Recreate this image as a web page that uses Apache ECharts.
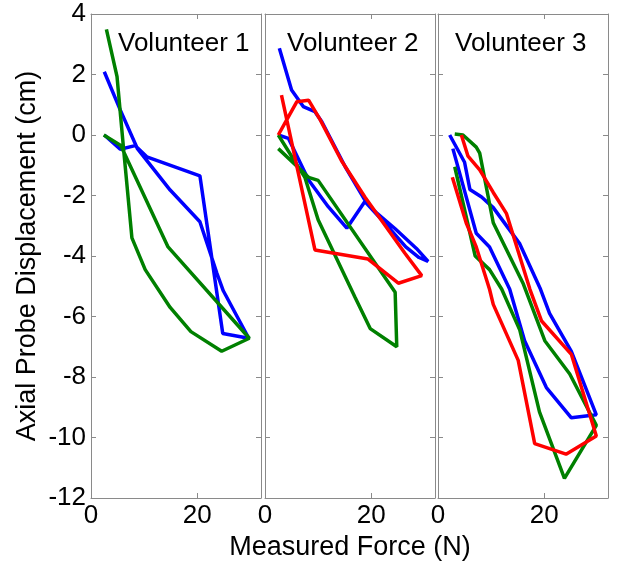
<!DOCTYPE html>
<html>
<head>
<meta charset="utf-8">
<script src="https://cdn.jsdelivr.net/npm/echarts@6/dist/echarts.min.js"></script>
<style>
  html, body { margin: 0; padding: 0; background: #fff; }
  #chart-container { width: 627px; height: 567px; }
</style>
</head>
<body>
<div id="chart-container"></div>
<script>
var dom = document.getElementById("chart-container");
var myChart = echarts.init(dom, null, { renderer: "canvas" });

// [force (N), displacement (cm)]
const v1Blue = [[2.5, 0], [5.5, -0.47], [8.3, -0.35], [10.5, -0.72], [20.5, -1.35], [24.8, -6.56], [29.7, -6.72], [24.9, -5.15], [23.7, -4.57], [20.5, -2.87], [14.9, -1.82], [8.7, -0.44], [5.5, 0.83], [2.5, 2.09]];
const v1Green = [[2.4, 0], [5.6, -0.35], [14.5, -3.7], [29.8, -6.72], [24.6, -7.15], [18.8, -6.5], [14.9, -5.7], [10.2, -4.45], [7.7, -3.4], [6.1, -0.4], [4.9, 1.93], [2.9, 3.49]];

const v2Blue = [[2.5, 0], [4.4, -0.11], [8.2, -1.49], [11.9, -2.37], [15.4, -3.08], [18.8, -2.2], [22.5, -2.9], [26.5, -3.7], [29, -4.05], [30.7, -4.18], [28.5, -3.75], [24.5, -3.1], [20.5, -2.5], [18.8, -2.15], [15.1, -1.05], [10.7, 0.44], [9.4, 0.77], [7.2, 0.94], [5, 1.49], [2.7, 2.87]];
const v2Green = [[2.5, 0], [7.5, -1.4], [10, -2.8], [16.9, -5.35], [19.8, -6.4], [24.8, -7.0], [24.5, -5.2], [10, -1.5], [8.2, -1.4], [2.5, -0.45]];
const v2Red = [[2.5, 0], [4.4, 0.6], [6, 1.1], [8.2, 1.15], [10.4, 0.5], [14.4, -0.85], [18.8, -2.05], [26.3, -3.9], [29.5, -4.65], [25.1, -4.9], [19.4, -4.1], [9.4, -3.8], [3.1, 1.32]];

const v3Blue = [[2.2, 0], [5, -0.9], [6, -1.8], [8.2, -2.05], [10.4, -2.4], [15.4, -3.6], [19.3, -5.1], [21, -5.9], [25.1, -7.15], [29.8, -9.25], [25.1, -9.35], [20.4, -8.35], [16.3, -6.8], [13.5, -5.1], [9.7, -3.7], [7.2, -3.25], [2.8, -0.45]];
const v3Green = [[3.15, 0.03], [4.7, 0], [7.2, -0.4], [7.85, -0.6], [10.4, -2.9], [16, -4.9], [20.1, -6.8], [24.8, -7.9], [29.8, -9.6], [23.8, -11.35], [19.1, -9.15], [15.4, -6.45], [12, -5.1], [9.7, -4.45], [7, -4.0], [3.15, -1.05]];
const v3Red = [[4.4, 0], [5.65, -0.7], [7.85, -1.15], [10.4, -1.9], [12.9, -2.6], [17.3, -5.1], [19.5, -6.15], [25.1, -7.25], [29.8, -9.95], [24.1, -10.55], [18.2, -10.2], [15.1, -7.45], [10.4, -5.6], [9.7, -5.1], [7.2, -3.7], [5.3, -2.9], [2.7, -1.4]];

const panelNames = ["Volunteer 1", "Volunteer 2", "Volunteer 3"];
const xTickLabels = [0, 20];

const panels = [
  [["#0000ff", v1Blue], ["#008000", v1Green]],
  [["#0000ff", v2Blue], ["#008000", v2Green], ["#ff0000", v2Red]],
  [["#0000ff", v3Blue], ["#008000", v3Green], ["#ff0000", v3Red]],
];

const gridLefts = [91, 265, 438];
const titleLefts = [118, 287, 455];
const axisGray = "#8a8a8a";
const font = "Liberation Sans, Arial, sans-serif";

const grid = gridLefts.map((left) => ({ left, top: 14, width: 170, height: 484 }));

const xAxis = [];
const yAxis = [];
gridLefts.forEach((_, i) => {
  ["bottom", "top"].forEach((position) => {
    const bottom = position === "bottom";
    xAxis.push({
      type: "value",
      gridIndex: i,
      position,
      min: 0,
      max: 32,
      interval: 20,
      axisLine: { show: true, onZero: false, lineStyle: { color: axisGray, width: 1 } },
      axisTick: { show: true, inside: true, length: 5, lineStyle: { color: axisGray } },
      splitLine: { show: false },
      axisLabel: {
        show: bottom,
        fontSize: 26,
        color: "#000",
        margin: 5,
        formatter: (v) => (xTickLabels.indexOf(v) >= 0 ? String(v) : ""),
      },
      name: bottom && i === 1 ? "Measured Force (N)" : "",
      nameLocation: "middle",
      nameGap: 36,
      nameTextStyle: { fontSize: 27, color: "#000" },
    });
  });
  ["left", "right"].forEach((position) => {
    const left = position === "left";
    yAxis.push({
      type: "value",
      gridIndex: i,
      position,
      min: -12,
      max: 4,
      interval: 2,
      axisLine: { show: true, onZero: false, lineStyle: { color: axisGray, width: 1 } },
      axisTick: { show: true, inside: true, length: 5, lineStyle: { color: axisGray } },
      splitLine: { show: false },
      axisLabel: { show: left && i === 0, fontSize: 26, color: "#000", margin: 5 },
      name: left && i === 0 ? "Axial Probe Displacement (cm)" : "",
      nameLocation: "middle",
      nameGap: 50,
      nameTextStyle: { fontSize: 27, color: "#000" },
    });
  });
});

const series = [];
panels.forEach((lines, i) => {
  lines.forEach(([color, data]) => {
    series.push({
      type: "line",
      xAxisIndex: 2 * i,
      yAxisIndex: 2 * i,
      data,
      showSymbol: false,
      smooth: false,
      lineStyle: { color, width: 3.5 },
      animation: false,
    });
  });
});

const graphic = panelNames.map((text, i) => ({
  type: "text",
  x: titleLefts[i],
  y: 44,
  style: { text, fontSize: 26, fontFamily: font, fill: "#000", verticalAlign: "middle" },
}));

var option = {
  animation: false,
  textStyle: { fontFamily: font },
  grid,
  xAxis,
  yAxis,
  series,
  graphic,
};

myChart.setOption(option);
window.addEventListener("resize", myChart.resize);
</script>
</body>
</html>
